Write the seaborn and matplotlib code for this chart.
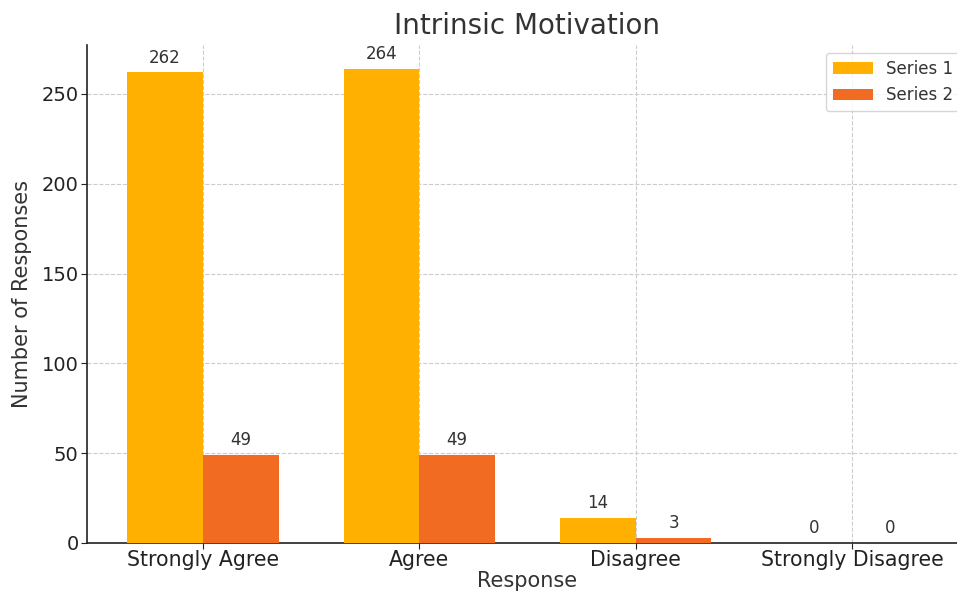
import pandas as pd
import seaborn as sns
import matplotlib.pyplot as plt

responses = ["Strongly Agree", "Agree", "Disagree", "Strongly Disagree"]
series_names = ["Series 1", "Series 2"]
series1 = [262, 264, 14, 0]
series2 = [49, 49, 3, 0]
colors = ["#FFB000", "#F26B22"]

df = pd.DataFrame({
    "Response": responses * 2,
    "Count": series1 + series2,
    "Series": [series_names[0]] * 4 + [series_names[1]] * 4,
})

sns.set_style("white")
plt.rcParams["font.family"] = ["DejaVu Sans"]
text_col = "#333333"

fig = plt.figure(figsize=(9.57, 5.93), dpi=100)
ax = fig.add_axes([87 / 957, 50 / 593, (968 - 87) / 957, (543 - 45) / 593])

sns.barplot(data=df, x="Response", y="Count", hue="Series", order=responses,
            palette=colors, width=0.7, gap=0, saturation=1, linewidth=0,
            ax=ax, zorder=3)

for cont in ax.containers:
    ax.bar_label(cont, padding=4, fontsize=12, color=text_col)

ax.set_xlim(-0.535, 3.535)
ax.set_ylim(0, 277.2)
ax.grid(True, linestyle="--", color="#cccccc", linewidth=0.8, zorder=0)
ax.set_axisbelow(True)
ax.spines["top"].set_visible(False)
ax.spines["right"].set_visible(False)
for s in ["left", "bottom"]:
    ax.spines[s].set_color("#222222")
    ax.spines[s].set_linewidth(1.2)

ax.set_title("Intrinsic Motivation", fontsize=20, color=text_col, pad=8)
ax.set_xlabel("Response", fontsize=15, color=text_col, labelpad=1)
ax.set_ylabel("Number of Responses", fontsize=15, color=text_col, labelpad=7)
ax.tick_params(axis="both", colors="#222222", length=4, pad=2,
               bottom=True, left=True)
ax.tick_params(axis="x", labelsize=14.8, pad=1)
ax.tick_params(axis="y", labelsize=14)
ax.legend(loc="upper right", fontsize=12, frameon=True, title=None,
          labelcolor=text_col, handlelength=2.4)

plt.savefig("out.png", dpi=100)
